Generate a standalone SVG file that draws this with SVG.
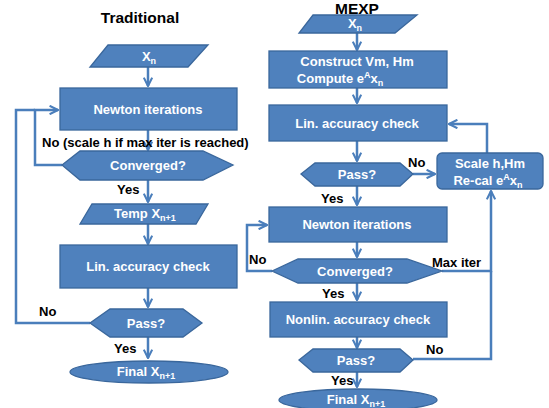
<svg xmlns="http://www.w3.org/2000/svg" width="549" height="408" viewBox="0 0 549 408">
<defs>
<marker id="arr" viewBox="0 0 10 10" refX="9" refY="5" markerWidth="4.2" markerHeight="4.2" orient="auto" markerUnits="strokeWidth">
<path d="M1,1 L9,5 L1,9" fill="none" stroke="#4A7EBB" stroke-width="2"/>
</marker>
<style>
.s{fill:#4F81BD;stroke:#3A679C;stroke-width:1.3}
.t{font-family:"Liberation Sans","DejaVu Sans",sans-serif;font-weight:bold;font-size:13px;fill:#ffffff;text-anchor:middle}
.l{font-family:"Liberation Sans","DejaVu Sans",sans-serif;font-weight:bold;font-size:13px;fill:#000000}
.h{font-family:"Liberation Sans","DejaVu Sans",sans-serif;font-weight:bold;font-size:15.5px;fill:#000000;text-anchor:middle}
.c{fill:none;stroke:#4A7EBB;stroke-width:2.5}
.sub{font-size:9px}
</style>
</defs>
<rect width="549" height="408" fill="#ffffff"/>
<text class="h" x="140" y="23">Traditional</text>
<text class="h" x="357" y="14">MEXP</text>

<g id="connectors">
<path class="c" d="M148,67 V86" marker-end="url(#arr)"/>
<path class="c" d="M148,130 V150" marker-end="url(#arr)"/>
<path class="c" d="M148,180 V202" marker-end="url(#arr)"/>
<path class="c" d="M148,224 V244" marker-end="url(#arr)"/>
<path class="c" d="M148,288 V307" marker-end="url(#arr)"/>
<path class="c" d="M148,337 V358" marker-end="url(#arr)"/>
<path class="c" d="M62,165 H35 V110 H58" marker-end="url(#arr)"/>
<path class="c" d="M90,323 H16 V110 H35"/>
<path class="c" d="M357,33 V50" marker-end="url(#arr)"/>
<path class="c" d="M357,88 V103" marker-end="url(#arr)"/>
<path class="c" d="M357,141 V161" marker-end="url(#arr)"/>
<path class="c" d="M357,186 V205" marker-end="url(#arr)"/>
<path class="c" d="M357,242 V257" marker-end="url(#arr)"/>
<path class="c" d="M357,283 V300" marker-end="url(#arr)"/>
<path class="c" d="M357,337 V348" marker-end="url(#arr)"/>
<path class="c" d="M357,372 V387" marker-end="url(#arr)"/>
<path class="c" d="M413,174 H435" marker-end="url(#arr)"/>
<path class="c" d="M487,153 V124 H449" marker-end="url(#arr)"/>
<path class="c" d="M272,271 H247 V225 H267" marker-end="url(#arr)"/>
<path class="c" d="M442,271 H491 V191" marker-end="url(#arr)"/>
<path class="c" d="M413,359 H491 V271"/>
</g>

<text class="l" x="42" y="147">No (scale h if max iter is reached)</text>
<text class="l" x="117" y="194">Yes</text>
<text class="l" x="39" y="316">No</text>
<text class="l" x="114" y="353">Yes</text>
<text class="l" x="408" y="167">No</text>
<text class="l" x="321" y="203">Yes</text>
<text class="l" x="249" y="264">No</text>
<text class="l" x="432" y="267">Max iter</text>
<text class="l" x="322" y="298">Yes</text>
<text class="l" x="426" y="354">No</text>
<text class="l" x="331" y="385">Yes</text>

<g id="t_xn">
<polygon class="s" points="108,45 208,45 188,67 90,67"/>
<text class="t" x="149" y="61">X<tspan class="sub" dy="3">n</tspan></text>
</g>
<g id="t_newton">
<rect class="s" x="60" y="88" width="177" height="42"/>
<text class="t" x="148" y="114">Newton iterations</text>
</g>
<g id="t_conv">
<polygon class="s" points="62,165 80,151 203,151 233,165 203,180 80,180"/>
<text class="t" x="148" y="170">Converged?</text>
</g>
<g id="t_temp">
<polygon class="s" points="92,204 208,204 196,224 80,224"/>
<text class="t" x="145" y="218">Temp X<tspan class="sub" dy="3">n+1</tspan></text>
</g>
<g id="t_lin">
<rect class="s" x="60" y="245" width="177" height="43"/>
<text class="t" x="148" y="271">Lin. accuracy check</text>
</g>
<g id="t_pass">
<polygon class="s" points="90,323 110,309 183,309 202,323 183,337 110,337"/>
<text class="t" x="146" y="328">Pass?</text>
</g>
<g id="t_final">
<ellipse class="s" cx="149" cy="372" rx="79" ry="11"/>
<text class="t" x="146" y="376">Final X<tspan class="sub" dy="3">n+1</tspan></text>
</g>

<g id="m_xn">
<polygon class="s" points="313,15 417,15 395,33 299,33"/>
<text class="t" x="355" y="28">X<tspan class="sub" dy="3">n</tspan></text>
</g>
<g id="m_construct">
<rect class="s" x="269" y="51" width="178" height="37"/>
<text class="t" x="357" y="66">Construct Vm, Hm</text>
<text class="t" x="340" y="83">Compute e<tspan class="sub" dy="-5">A</tspan><tspan dy="5">x</tspan><tspan class="sub" dy="3">n</tspan></text>
</g>
<g id="m_lin">
<rect class="s" x="269" y="105" width="178" height="36"/>
<text class="t" x="357" y="128">Lin. accuracy check</text>
</g>
<g id="m_pass1">
<polygon class="s" points="301,174 315,163 400,163 413,174 400,186 315,186"/>
<text class="t" x="357" y="179">Pass?</text>
</g>
<g id="m_scale">
<rect class="s" x="437" y="153" width="106" height="36" rx="5"/>
<text class="t" x="490" y="168">Scale h,Hm</text>
<text class="t" x="488" y="185">Re-cal e<tspan class="sub" dy="-5">A</tspan><tspan dy="5">x</tspan><tspan class="sub" dy="3">n</tspan></text>
</g>
<g id="m_newton">
<rect class="s" x="269" y="207" width="178" height="35"/>
<text class="t" x="357" y="229">Newton iterations</text>
</g>
<g id="m_conv">
<polygon class="s" points="272,271 298,259 407,259 442,271 407,283 298,283"/>
<text class="t" x="355" y="276">Converged?</text>
</g>
<g id="m_nonlin">
<rect class="s" x="270" y="302" width="177" height="35"/>
<text class="t" x="358" y="324">Nonlin. accuracy check</text>
</g>
<g id="m_pass2">
<polygon class="s" points="299,360 313,349 400,349 413,360 400,372 313,372"/>
<text class="t" x="356" y="365">Pass?</text>
</g>
<g id="m_final">
<ellipse class="s" cx="358" cy="400" rx="79" ry="11"/>
<text class="t" x="356" y="404">Final X<tspan class="sub" dy="3">n+1</tspan></text>
</g>
</svg>
